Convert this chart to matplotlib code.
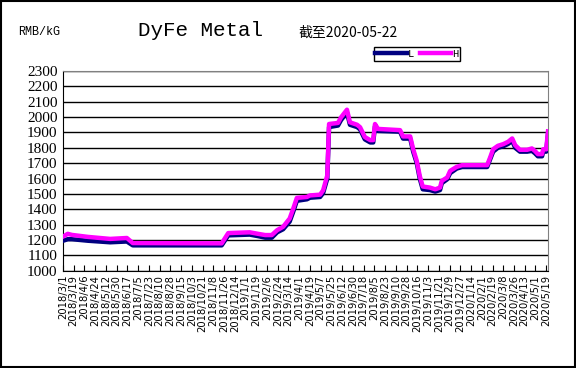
import matplotlib
matplotlib.use("Agg")
import matplotlib.pyplot as plt
from matplotlib.patches import Rectangle
import pandas as pd

# price change points (RMB/kg)
dates = [
    "2018-03-01", "2018-03-09", "2018-03-16", "2018-04-12", "2018-05-19", "2018-06-16",
    "2018-06-26", "2018-11-22", "2018-12-03", "2019-01-08", "2019-01-22", "2019-02-03",
    "2019-02-14", "2019-02-23", "2019-03-05", "2019-03-16", "2019-03-22", "2019-03-28",
    "2019-04-14", "2019-04-19", "2019-05-06", "2019-05-11", "2019-05-18", "2019-05-21",
    "2019-06-05", "2019-06-10", "2019-06-20", "2019-06-25", "2019-07-07", "2019-07-12",
    "2019-07-20", "2019-07-29", "2019-08-03", "2019-08-06", "2019-08-11", "2019-09-17",
    "2019-09-22", "2019-10-04", "2019-10-09", "2019-10-15", "2019-10-20", "2019-10-25",
    "2019-11-06", "2019-11-15", "2019-11-23", "2019-11-26", "2019-12-05", "2019-12-10",
    "2019-12-21", "2019-12-30", "2020-02-10", "2020-02-15", "2020-02-20", "2020-02-28",
    "2020-03-08", "2020-03-16", "2020-03-23", "2020-03-28", "2020-04-05", "2020-04-17",
    "2020-04-25", "2020-04-30", "2020-05-05", "2020-05-12", "2020-05-14", "2020-05-19",
    "2020-05-22",
]
high = [
    1222, 1240, 1233, 1220, 1207, 1213,
    1180, 1178, 1245, 1250, 1240, 1232,
    1232, 1264, 1286, 1340, 1405, 1474,
    1480, 1490, 1495, 1523, 1620, 1955,
    1962, 1998, 2048, 1966, 1950, 1934,
    1870, 1850, 1850, 1955, 1923, 1915,
    1874, 1874, 1791, 1715, 1617, 1548,
    1541, 1530, 1541, 1585, 1607, 1650,
    1676, 1687, 1687, 1737, 1791, 1813,
    1824, 1839, 1861, 1817, 1787, 1787,
    1796, 1780, 1759, 1759, 1791, 1790,
    1907,
]
low = [
    1195, 1205, 1205, 1195, 1185, 1190,
    1165, 1165, 1230, 1235, 1225, 1215,
    1215, 1250, 1270, 1320, 1385, 1455,
    1465, 1475, 1480, 1505, 1600, 1935,
    1945, 1980, 2030, 1950, 1935, 1920,
    1855, 1835, 1835, 1940, 1910, 1905,
    1860, 1860, 1775, 1700, 1600, 1530,
    1525, 1515, 1525, 1570, 1595, 1635,
    1665, 1675, 1675, 1725, 1775, 1800,
    1810, 1825, 1845, 1800, 1775, 1775,
    1780, 1765, 1745, 1745, 1775, 1775,
    1890,
]

tick_labels = [
    "2018/3/1", "2018/3/19", "2018/4/6", "2018/4/24", "2018/5/12", "2018/5/30",
    "2018/6/17", "2018/7/5", "2018/7/23", "2018/8/10", "2018/8/28", "2018/9/15",
    "2018/10/3", "2018/10/21", "2018/11/8", "2018/11/26", "2018/12/14", "2019/1/1",
    "2019/1/19", "2019/2/6", "2019/2/24", "2019/3/14", "2019/4/1", "2019/4/19",
    "2019/5/7", "2019/5/25", "2019/6/12", "2019/6/30", "2019/7/18", "2019/8/5",
    "2019/8/23", "2019/9/10", "2019/9/28", "2019/10/16", "2019/11/3", "2019/11/21",
    "2019/12/9", "2019/12/27", "2020/1/14", "2020/2/1", "2020/2/19", "2020/3/8",
    "2020/3/26", "2020/4/13", "2020/5/1", "2020/5/19",
]
yticks = list(range(1000, 2301, 100))

x = pd.to_datetime(dates)
tick_pos = pd.to_datetime(tick_labels, format="%Y/%m/%d")

fig = plt.figure(figsize=(5.76, 3.68), dpi=100)
ax = fig.add_axes([63 / 576, 1 - 270.7 / 368, 485 / 576, (270.7 - 71) / 368])

ax.plot(x, low, color="#000080", lw=3.2, label="L", solid_joinstyle="round", zorder=3)
ax.plot(x, high, color="#FF00FF", lw=3.2, label="H", solid_joinstyle="round", zorder=4)

ax.set_xlim(pd.Timestamp("2018-03-01"), pd.Timestamp("2020-05-22"))
ax.set_ylim(1000, 2300)
ax.set_yticks(yticks)
ax.yaxis.grid(True, color="black", lw=1.0)
ax.set_axisbelow(True)
ax.tick_params(axis="y", length=0, pad=4)
for lab in ax.get_yticklabels():
    lab.set_fontfamily("Liberation Serif")
    lab.set_fontsize(11)

ax.set_xticks(tick_pos)
ax.set_xticklabels(tick_labels, rotation=90, fontsize=7.2, family="DejaVu Sans")
ax.tick_params(axis="x", direction="in", length=4, width=0.8, pad=3)

for side in ("top", "right"):
    ax.spines[side].set_color("#808080")
for side in ("left", "bottom"):
    ax.spines[side].set_color("black")

leg = ax.legend(loc="center", bbox_to_anchor=(417 / 576, 1 - 54 / 368),
                bbox_transform=fig.transFigure, ncol=2,
                handlelength=3.0, handletextpad=0.15, columnspacing=0.5,
                borderpad=0.15, fancybox=False, framealpha=1,
                prop={"family": "Liberation Mono", "size": 7.5})
leg.get_frame().set_edgecolor("black")
leg.get_frame().set_linewidth(1.0)

fig.text(18 / 576, 1 - 32 / 368, "RMB/kG", fontsize=8.5, family="Liberation Mono", va="center")
fig.text(201 / 576, 1 - 30 / 368, "DyFe Metal", fontsize=15, family="Liberation Mono",
         va="center", ha="center")
fig.text(298 / 576, 1 - 33 / 368, "截至2020-05-22", fontsize=10,
         family=["Noto Sans CJK SC", "DejaVu Sans"], va="center")

fig.patches.append(Rectangle((0.001, 0.002), 0.997, 0.995, transform=fig.transFigure,
                             fill=False, edgecolor="black", lw=1.5))

fig.savefig("out.png", dpi=100)
